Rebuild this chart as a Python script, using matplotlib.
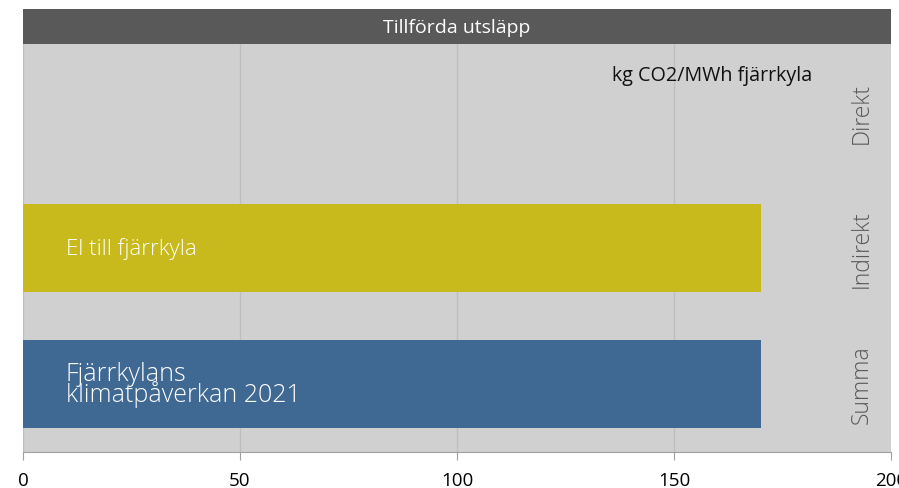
import matplotlib.pyplot as plt
from matplotlib.patches import Rectangle

# data
rows = ["Direkt", "Indirekt", "Summa"]
values = [0, 170, 170]
bar_labels = ["", "El till fjärrkyla", "Fjärrkylans\nklimatpåverkan 2021"]
bar_colors = ["#C8B91C", "#C8B91C", "#3F6892"]
x_ticks = [0, 50, 100, 150, 200]
header = "Tillförda utsläpp"
unit_label = "kg CO2/MWh fjärrkyla"

plt.rcParams["font.family"] = ["Open Sans", "DejaVu Sans"]

fig = plt.figure(figsize=(8.99, 4.89), dpi=100)
ax = fig.add_axes([23 / 899, 1 - 453 / 489, 868 / 899, 408 / 489])
ax.set_facecolor("#D0D0D0")

ypos = list(range(len(rows)))
for y, v, lab, col in zip(ypos, values, bar_labels, bar_colors):
    if v > 0:
        ax.barh(y, v, height=0.64, color=col, zorder=2)
    if lab:
        fs = 18 if "\n" in lab else 16
        ax.text(9.8, y, lab, color="white", fontsize=fs, va="center", ha="left",
                linespacing=0.75, fontweight="light", zorder=3)
    ax.text(193.3, y, rows[y], rotation=90, color="#595959", fontsize=16.5,
            va="center", ha="center", fontweight="light", zorder=3)

ax.text(158.8, -0.27, unit_label, fontsize=14.2, ha="center", va="center", color="#111111")

ax.set_xlim(0, 200)
ax.set_ylim(2.5, -0.5)
ax.set_yticks([])
ax.set_xticks(x_ticks)
ax.tick_params(axis="x", length=6, color="#A0A0A0", labelsize=13.5, pad=8)
ax.grid(axis="x", color="#BEBEBE", linewidth=0.9, zorder=1)
ax.set_axisbelow(True)
for side in ["top", "left", "right"]:
    ax.spines[side].set_visible(False)
ax.spines["bottom"].set_color("#A0A0A0")

# header strip
hax = fig.add_axes([23 / 899, 1 - 45 / 489, 868 / 899, 35 / 489])
hax.add_patch(Rectangle((0, 0), 1, 1, color="#595959", transform=hax.transAxes))
hax.text(0.5, 0.5, header, color="white", fontsize=14, ha="center", va="center",
         transform=hax.transAxes)
hax.axis("off")

fig.savefig("out.png", dpi=100)
plt.close(fig)
